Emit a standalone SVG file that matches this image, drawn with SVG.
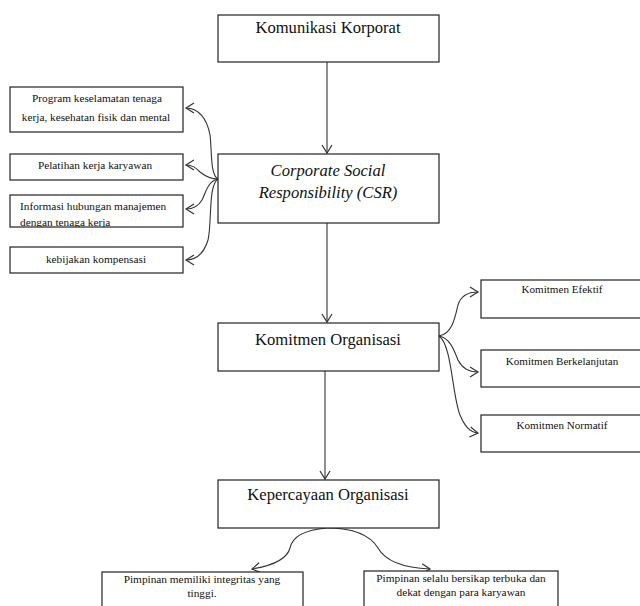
<svg xmlns="http://www.w3.org/2000/svg" width="640" height="606" viewBox="0 0 640 606">
<style>
.box{fill:#fff;stroke:#222;stroke-width:1.2}
text{font-family:'Liberation Serif','Times New Roman',serif;fill:#111}
.t{text-anchor:middle}
.l{text-anchor:start}
.big{font-size:16.6px}
.sm{font-size:11.3px}
.xs{font-size:11.1px}
.c{fill:none;stroke:#333;stroke-width:1.1}
</style>
<defs>
<marker id="ah" markerUnits="userSpaceOnUse" markerWidth="14" markerHeight="14" viewBox="-10 -7 12 14" refX="0" refY="0" orient="auto">
<path d="M-8,-5 L0,0 L-8,5" fill="none" stroke="#333" stroke-width="1.2"/>
</marker>
<clipPath id="cb3"><rect x="10" y="195" width="173" height="32"/></clipPath>
</defs>
<rect width="640" height="606" fill="#fff"/>
<g id="connectors">
<path class="c" d="M327,62 L327,153" marker-end="url(#ah)"/>
<path class="c" d="M327,223 L327,322" marker-end="url(#ah)"/>
<path class="c" d="M325,371 L325,479" marker-end="url(#ah)"/>
<path class="c" d="M218,179 C210,175 212,150 210,135 C207,118 198,108 186,108" marker-end="url(#ah)"/>
<path class="c" d="M218,179 C210,179 205,176 200,172 C195,167 192,165 186,165" marker-end="url(#ah)"/>
<path class="c" d="M218,179 C208,181 206,192 202,200 C198,207 193,209 186,209" marker-end="url(#ah)"/>
<path class="c" d="M218,179 C208,185 212,225 208,240 C204,253 196,260 186,260" marker-end="url(#ah)"/>
<path class="c" d="M439,336 C452,334 455,318 458,305 C461,295 468,292 478,292" marker-end="url(#ah)"/>
<path class="c" d="M439,336 C450,338 454,350 458,360 C462,368 468,372 478,372" marker-end="url(#ah)"/>
<path class="c" d="M439,336 C452,345 452,395 460,415 C465,427 470,432 478,433" marker-end="url(#ah)"/>
<path class="c" d="M327,528 C302,530 292,538 290,548 C287,560 270,566 252,569" marker-end="url(#ah)"/>
<path class="c" d="M327,528 C355,528 370,535 378,548 C386,562 405,568 430,569" marker-end="url(#ah)"/>
</g>
<g id="n-komunikasi">
<rect class="box" x="218" y="15" width="221" height="47"/>
<text class="t big" x="328" y="33">Komunikasi Korporat</text>
</g>
<g id="n-csr">
<rect class="box" x="218" y="154" width="221" height="69"/>
<text class="t big" x="328" y="176" font-style="italic">Corporate Social</text>
<text class="t big" x="328" y="198" font-style="italic">Responsibility (CSR)</text>
</g>
<g id="n-komitmen">
<rect class="box" x="218" y="323" width="221" height="48"/>
<text class="t big" x="328" y="345">Komitmen Organisasi</text>
</g>
<g id="n-kepercayaan">
<rect class="box" x="218" y="480" width="221" height="48"/>
<text class="t big" x="328" y="500">Kepercayaan Organisasi</text>
</g>
<g id="n-program">
<rect class="box" x="10" y="87" width="173" height="45"/>
<text class="t sm" x="97" y="102">Program keselamatan tenaga</text>
<text class="t sm" x="96" y="121">kerja, kesehatan fisik dan mental</text>
</g>
<g id="n-pelatihan">
<rect class="box" x="10" y="154" width="173" height="26"/>
<text class="t sm" x="95" y="169">Pelatihan kerja karyawan</text>
</g>
<g id="n-informasi">
<rect class="box" x="10" y="195" width="173" height="32"/>
<g clip-path="url(#cb3)">
<text class="l sm" x="20" y="210">Informasi hubungan manajemen</text>
<text class="l sm" x="20" y="226">dengan tenaga kerja</text>
</g>
</g>
<g id="n-kebijakan">
<rect class="box" x="10" y="247" width="173" height="26"/>
<text class="t sm" x="96" y="263">kebijakan kompensasi</text>
</g>
<g id="n-efektif">
<rect class="box" x="481" y="280" width="165" height="38"/>
<text class="t xs" x="562" y="293">Komitmen Efektif</text>
</g>
<g id="n-berkelanjutan">
<rect class="box" x="481" y="350" width="165" height="37"/>
<text class="t xs" x="562" y="365">Komitmen Berkelanjutan</text>
</g>
<g id="n-normatif">
<rect class="box" x="481" y="415" width="165" height="37"/>
<text class="t xs" x="562" y="429">Komitmen Normatif</text>
</g>
<g id="n-integritas">
<rect class="box" x="102" y="572" width="201" height="40"/>
<text class="t sm" x="202" y="583">Pimpinan memiliki integritas yang</text>
<text class="t sm" x="202" y="597">tinggi.</text>
</g>
<g id="n-terbuka">
<rect class="box" x="364" y="571" width="194" height="40"/>
<text class="t sm" x="461" y="582">Pimpinan selalu bersikap terbuka dan</text>
<text class="t sm" x="461" y="596">dekat dengan para karyawan</text>
</g>
</svg>
